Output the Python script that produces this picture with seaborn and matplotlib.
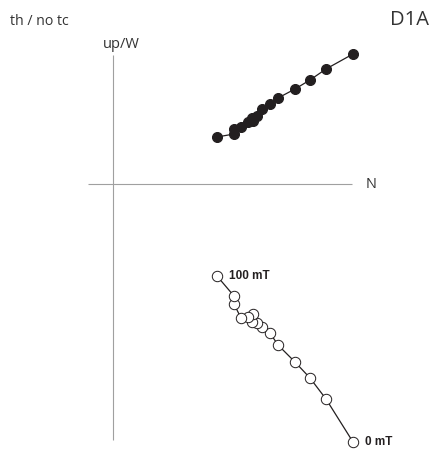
import numpy as np
import matplotlib
matplotlib.use("Agg")
import matplotlib.pyplot as plt
import pandas as pd
import seaborn as sns

# demagnetisation steps, 0 mT -> 100 mT (arbitrary units)
steps = ["0 mT"] + [""] * 13 + ["100 mT"]
north = [240, 213, 197, 182, 165, 157, 149, 144, 139, 140, 135, 128, 121, 121, 104]
up_w = [130, 115, 104, 95, 86, 80, 75, 68, 66, 63, 62, 57, 55, 50, 47]
horiz = [-258, -215, -194, -178, -161, -149, -143, -139, -138, -130, -133, -134, -120, -112, -92]

df = pd.DataFrame({"step": steps, "N": north, "up": up_w, "h": horiz})

sns.set_style("white")
plt.rcParams["font.family"] = ["Open Sans", "DejaVu Sans"]

fig = plt.figure(figsize=(4.33, 4.54), dpi=100)
ax = fig.add_axes([0, 0, 1, 1])
ax.set_xlim(-113, 320)
ax.set_ylim(-270, 184)
ax.axis("off")

# axes cross
ax.hlines(0, -25, 239, color="#a0a0a0", lw=0.8)
ax.vlines(0, -256, 129, color="#a0a0a0", lw=0.8)

ink = "#231f20"
sns.lineplot(data=df, x="N", y="up", sort=False, estimator=None, ax=ax,
             color=ink, lw=0.9, marker="o", markersize=7.2,
             markerfacecolor=ink, markeredgecolor=ink)
sns.lineplot(data=df, x="N", y="h", sort=False, estimator=None, ax=ax,
             color=ink, lw=0.9, marker="o", markersize=7.5,
             markerfacecolor="white", markeredgecolor=ink, markeredgewidth=0.7)

for _, r in df.iterrows():
    if r["step"]:
        ax.text(r["N"] + 12, r["h"], r["step"], fontsize=8.5, fontweight="bold",
                family=["Liberation Sans", "DejaVu Sans"], color=ink, va="center")

ax.text(253, -1, "N", fontsize=10.5, color="#333333", va="center", ha="left")
ax.text(8, 139, "up/W", fontsize=10.5, color="#333333", va="center", ha="center")
ax.text(-103, 162, "th / no tc", fontsize=10.2, color="#333333", va="center", ha="left")
ax.text(316, 164, "D1A", fontsize=14.5, color="#333333", va="center", ha="right")

fig.savefig("out.png", dpi=100)
